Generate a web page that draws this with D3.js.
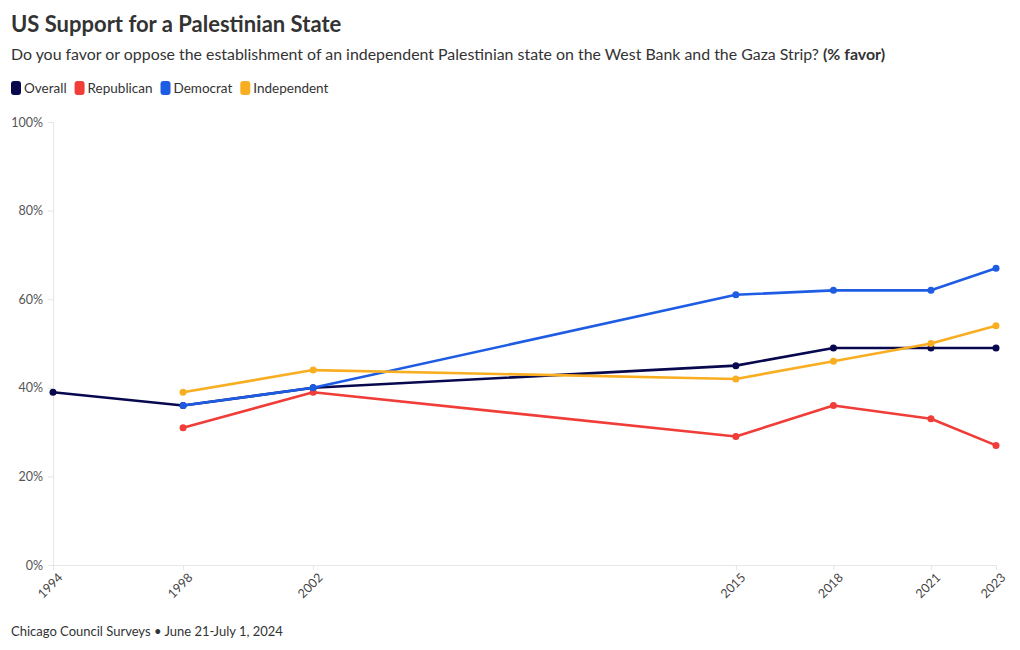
<!DOCTYPE html>
<html><head><meta charset="utf-8">
<script src="https://cdn.jsdelivr.net/npm/d3@7"></script>
<style>
body{margin:0;background:#fff;font-family:Lato,"Noto Sans",sans-serif;}
</style></head>
<body><svg id="c" width="1020" height="650"></svg>
<script>
const years = [1994, 1998, 2002, 2015, 2018, 2021, 2023];
const seriesNames = ["Overall", "Republican", "Democrat", "Independent"];
const seriesColors = ["#08084f", "#f03d38", "#1d5ce3", "#f9ae22"];
const overall     = [39, 36, 40, 45, 49, 49, 49];
const republican  = [null, 31, 39, 29, 36, 33, 27];
const democrat    = [null, 36, 40, 61, 62, 62, 67];
const independent = [null, 39, 44, 42, 46, 50, 54];
const yTicks = [0, 20, 40, 60, 80, 100];
const allSeries = [overall, republican, democrat, independent];

const svg = d3.select("#c");
const font = "Lato, 'Noto Sans', sans-serif";
const x = d3.scaleLinear().domain([1994, 2023]).range([53, 996]);
const y = d3.scaleLinear().domain([0, 100]).range([565, 122]);

svg.append("text").attr("x", 11).attr("y", 32).text("US Support for a Palestinian State")
  .attr("font-size", 22).attr("font-weight", 700).attr("fill", "#333").attr("font-family", font);
const sub = svg.append("text").attr("x", 11).attr("y", 60).attr("font-size", 15.9).attr("fill", "#333").attr("font-family", font);
sub.append("tspan").text("Do you favor or oppose the establishment of an independent Palestinian state on the West Bank and the Gaza Strip? ");
sub.append("tspan").attr("font-weight", 700).text("(% favor)");

// legend
let lx = 11;
seriesNames.forEach((n, i) => {
  const g = svg.append("g");
  g.append("rect").attr("x", lx).attr("y", 81).attr("width", 10).attr("height", 14).attr("rx", 3).attr("fill", seriesColors[i]);
  const t = g.append("text").attr("x", lx + 13).attr("y", 93).text(n).attr("font-size", 13.5).attr("fill", "#333").attr("font-family", font);
  lx += 13 + t.node().getComputedTextLength() + 8;
});

// axes
const gx = svg.append("g").attr("transform", "translate(0,565)")
  .call(d3.axisBottom(x).tickValues(years).tickFormat(d3.format("d")).tickSize(5).tickPadding(4));
gx.select(".domain").attr("stroke", "#e6e6e6");
gx.selectAll(".tick line").attr("stroke", "#e6e6e6");
gx.selectAll("text").attr("font-size", 12.5).attr("fill", "#444").attr("font-family", font)
  .attr("text-anchor", "end").attr("dx", "-0.2em").attr("dy", "0.6em").attr("transform", "rotate(-45)");

const gy = svg.append("g").attr("transform", "translate(53,0)")
  .call(d3.axisLeft(y).tickValues(yTicks).tickFormat(d => d + "%").tickSize(5).tickPadding(5));
gy.select(".domain").attr("stroke", "#e6e6e6");
gy.selectAll(".tick line").attr("stroke", "#e6e6e6");
gy.selectAll("text").attr("font-size", 12.5).attr("fill", "#555").attr("font-family", font);

const line = d3.line().defined(d => d[1] != null).x(d => x(d[0])).y(d => y(d[1]));
allSeries.forEach((s, i) => {
  const pts = years.map((yr, j) => [yr, s[j]]);
  svg.append("path").datum(pts).attr("d", line).attr("fill", "none")
    .attr("stroke", seriesColors[i]).attr("stroke-width", 2.6).attr("stroke-linejoin", "round");
  svg.append("g").selectAll("circle").data(pts.filter(d => d[1] != null)).join("circle")
    .attr("cx", d => x(d[0])).attr("cy", d => y(d[1])).attr("r", 3.5).attr("fill", seriesColors[i]);
});

svg.append("text").attr("x", 11).attr("y", 636).text("Chicago Council Surveys • June 21-July 1, 2024")
  .attr("font-size", 13).attr("fill", "#333").attr("font-family", font);
</script></body></html>
